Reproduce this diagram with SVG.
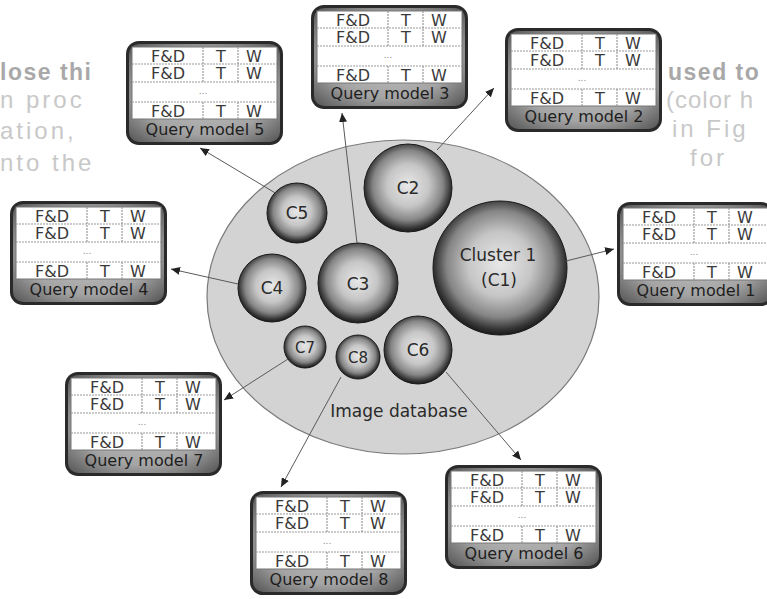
<svg xmlns="http://www.w3.org/2000/svg" width="767" height="599" viewBox="0 0 767 599">
<defs>
<radialGradient id="ball" cx="0.5" cy="0.47" r="0.53">
<stop offset="0" stop-color="#e8e8e8"/>
<stop offset="0.45" stop-color="#c6c6c6"/>
<stop offset="0.75" stop-color="#858585"/>
<stop offset="0.92" stop-color="#353535"/>
<stop offset="1" stop-color="#1a1a1a"/>
</radialGradient>
<radialGradient id="frameGrad" cx="0.5" cy="0.5" r="0.7">
<stop offset="0" stop-color="#c4c4c4"/>
<stop offset="0.6" stop-color="#a4a4a4"/>
<stop offset="1" stop-color="#555555"/>
</radialGradient>
<marker id="arr" markerWidth="9" markerHeight="8" refX="9" refY="4" orient="auto" markerUnits="userSpaceOnUse">
<path d="M0,0 L9,4 L0,8 z" fill="#222"/>
</marker>
</defs>
<style>
.bg{font-family:"Liberation Sans",Arial,sans-serif;font-size:24px;letter-spacing:3px;fill:#c8c8c8}
.bgb{font-family:"Liberation Sans",Arial,sans-serif;font-size:23px;letter-spacing:1.5px;font-weight:bold;fill:#a8a8a8}
.frame{fill:#2a2a2a}
.frameIn{fill:url(#frameGrad)}
.tbl{fill:#ffffff;stroke:#777;stroke-width:1}
.sep{stroke:#9a9a9a;stroke-width:1.2;stroke-dasharray:2 1}
.t{font-family:"DejaVu Sans",Verdana,sans-serif;font-size:16px;fill:#3a3a3a;text-anchor:middle}
.dots{font-family:"DejaVu Sans",Verdana,sans-serif;font-size:9px;fill:#888;text-anchor:middle}
.ft{font-family:"DejaVu Sans",Verdana,sans-serif;font-size:16px;fill:#1e1e1e;text-anchor:middle}
.db{fill:#d3d3d3;stroke:#7a7a7a;stroke-width:1.2}
.ball{fill:url(#ball);stroke:#1a1a1a;stroke-width:1}
.cl{font-family:"DejaVu Sans",Verdana,sans-serif;font-size:17px;fill:#2a2a2a;text-anchor:middle}
.con{stroke:#5a5a5a;stroke-width:1;fill:none;marker-end:url(#arr)}
</style>
<rect width="767" height="599" fill="#ffffff"/>
<g id="background-text">
<text class="bgb" x="0" y="80">lose thi</text>
<text class="bg" x="0" y="108">n proc</text>
<text class="bg" x="0" y="139">ation,</text>
<text class="bg" x="0" y="171">nto  the</text>
<text class="bgb" x="668" y="80">used to</text>
<text class="bg" x="666" y="108" style="letter-spacing:1px">(color h</text>
<text class="bg" x="672" y="137">in Fig</text>
<text class="bg" x="690" y="166">for</text>
</g>
<g id="database">
<ellipse class="db" cx="403" cy="297" rx="196" ry="157"/>
<text class="cl" x="399" y="417">Image database</text>
</g>
<g id="C1"><circle class="ball" cx="500" cy="268" r="67"/><text class="cl" x="498" y="261">Cluster 1</text><text class="cl" x="499" y="286">(C1)</text></g>
<g id="C2"><circle class="ball" cx="408" cy="188" r="44"/><text class="cl" x="408" y="194">C2</text></g>
<g id="C3"><circle class="ball" cx="358" cy="283" r="40"/><text class="cl" x="358" y="290">C3</text></g>
<g id="C4"><circle class="ball" cx="272" cy="288" r="34"/><text class="cl" x="272" y="294">C4</text></g>
<g id="C5"><circle class="ball" cx="297" cy="213" r="30"/><text class="cl" x="297" y="219">C5</text></g>
<g id="C6"><circle class="ball" cx="418" cy="350" r="34"/><text class="cl" x="418" y="356">C6</text></g>
<g id="C7"><circle class="ball" cx="305" cy="347" r="21"/><text class="cl" x="305" y="353" style="font-size:15px">C7</text></g>
<g id="C8"><circle class="ball" cx="358" cy="357" r="22"/><text class="cl" x="358" y="363" style="font-size:15px">C8</text></g>
<g id="connectors">
<line class="con" x1="277" y1="194" x2="200" y2="148"/>
<line class="con" x1="357" y1="243" x2="342" y2="113"/>
<line class="con" x1="437" y1="150" x2="494" y2="88"/>
<line class="con" x1="566" y1="261" x2="614" y2="249"/>
<line class="con" x1="238" y1="284" x2="171" y2="269"/>
<line class="con" x1="288" y1="359" x2="224" y2="400"/>
<line class="con" x1="341" y1="377" x2="281" y2="487"/>
<line class="con" x1="446" y1="372" x2="521" y2="460"/>
</g>
<g id="QM5" transform="translate(126,41)">
<rect class="frame" width="157" height="104" rx="13"/><rect class="frameIn" x="3" y="3" width="151" height="98" rx="10"/><rect class="tbl" x="6" y="6" width="145" height="72"/>
<line class="sep" x1="6" y1="23" x2="151" y2="23"/><line class="sep" x1="6" y1="41" x2="151" y2="41"/><line class="sep" x1="6" y1="61" x2="151" y2="61"/>
<line class="sep" x1="77" y1="6" x2="77" y2="41"/><line class="sep" x1="112" y1="6" x2="112" y2="41"/><line class="sep" x1="77" y1="61" x2="77" y2="78"/><line class="sep" x1="112" y1="61" x2="112" y2="78"/>
<text class="t" x="42" y="20.5">F&amp;D</text><text class="t" x="95" y="20.5">T</text><text class="t" x="128" y="20.5">W</text>
<text class="t" x="42" y="38">F&amp;D</text><text class="t" x="95" y="38">T</text><text class="t" x="128" y="38">W</text>
<text class="dots" x="77" y="53">...</text>
<text class="t" x="42" y="75.5">F&amp;D</text><text class="t" x="95" y="75.5">T</text><text class="t" x="128" y="75.5">W</text>
<text class="ft" x="79" y="93.5">Query model 5</text>
</g>
<g id="QM3" transform="translate(311,5)">
<rect class="frame" width="157" height="104" rx="13"/><rect class="frameIn" x="3" y="3" width="151" height="98" rx="10"/><rect class="tbl" x="6" y="6" width="145" height="72"/>
<line class="sep" x1="6" y1="23" x2="151" y2="23"/><line class="sep" x1="6" y1="41" x2="151" y2="41"/><line class="sep" x1="6" y1="61" x2="151" y2="61"/>
<line class="sep" x1="77" y1="6" x2="77" y2="41"/><line class="sep" x1="112" y1="6" x2="112" y2="41"/><line class="sep" x1="77" y1="61" x2="77" y2="78"/><line class="sep" x1="112" y1="61" x2="112" y2="78"/>
<text class="t" x="42" y="20.5">F&amp;D</text><text class="t" x="95" y="20.5">T</text><text class="t" x="128" y="20.5">W</text>
<text class="t" x="42" y="38">F&amp;D</text><text class="t" x="95" y="38">T</text><text class="t" x="128" y="38">W</text>
<text class="dots" x="77" y="53">...</text>
<text class="t" x="42" y="75.5">F&amp;D</text><text class="t" x="95" y="75.5">T</text><text class="t" x="128" y="75.5">W</text>
<text class="ft" x="79" y="93.5">Query model 3</text>
</g>
<g id="QM2" transform="translate(505,28)">
<rect class="frame" width="157" height="104" rx="13"/><rect class="frameIn" x="3" y="3" width="151" height="98" rx="10"/><rect class="tbl" x="6" y="6" width="145" height="72"/>
<line class="sep" x1="6" y1="23" x2="151" y2="23"/><line class="sep" x1="6" y1="41" x2="151" y2="41"/><line class="sep" x1="6" y1="61" x2="151" y2="61"/>
<line class="sep" x1="77" y1="6" x2="77" y2="41"/><line class="sep" x1="112" y1="6" x2="112" y2="41"/><line class="sep" x1="77" y1="61" x2="77" y2="78"/><line class="sep" x1="112" y1="61" x2="112" y2="78"/>
<text class="t" x="42" y="20.5">F&amp;D</text><text class="t" x="95" y="20.5">T</text><text class="t" x="128" y="20.5">W</text>
<text class="t" x="42" y="38">F&amp;D</text><text class="t" x="95" y="38">T</text><text class="t" x="128" y="38">W</text>
<text class="dots" x="77" y="53">...</text>
<text class="t" x="42" y="75.5">F&amp;D</text><text class="t" x="95" y="75.5">T</text><text class="t" x="128" y="75.5">W</text>
<text class="ft" x="79" y="93.5">Query model 2</text>
</g>
<g id="QM1" transform="translate(617,202)">
<rect class="frame" width="157" height="104" rx="13"/><rect class="frameIn" x="3" y="3" width="151" height="98" rx="10"/><rect class="tbl" x="6" y="6" width="145" height="72"/>
<line class="sep" x1="6" y1="23" x2="151" y2="23"/><line class="sep" x1="6" y1="41" x2="151" y2="41"/><line class="sep" x1="6" y1="61" x2="151" y2="61"/>
<line class="sep" x1="77" y1="6" x2="77" y2="41"/><line class="sep" x1="112" y1="6" x2="112" y2="41"/><line class="sep" x1="77" y1="61" x2="77" y2="78"/><line class="sep" x1="112" y1="61" x2="112" y2="78"/>
<text class="t" x="42" y="20.5">F&amp;D</text><text class="t" x="95" y="20.5">T</text><text class="t" x="128" y="20.5">W</text>
<text class="t" x="42" y="38">F&amp;D</text><text class="t" x="95" y="38">T</text><text class="t" x="128" y="38">W</text>
<text class="dots" x="77" y="53">...</text>
<text class="t" x="42" y="75.5">F&amp;D</text><text class="t" x="95" y="75.5">T</text><text class="t" x="128" y="75.5">W</text>
<text class="ft" x="79" y="93.5">Query model 1</text>
</g>
<g id="QM4" transform="translate(10,201)">
<rect class="frame" width="157" height="104" rx="13"/><rect class="frameIn" x="3" y="3" width="151" height="98" rx="10"/><rect class="tbl" x="6" y="6" width="145" height="72"/>
<line class="sep" x1="6" y1="23" x2="151" y2="23"/><line class="sep" x1="6" y1="41" x2="151" y2="41"/><line class="sep" x1="6" y1="61" x2="151" y2="61"/>
<line class="sep" x1="77" y1="6" x2="77" y2="41"/><line class="sep" x1="112" y1="6" x2="112" y2="41"/><line class="sep" x1="77" y1="61" x2="77" y2="78"/><line class="sep" x1="112" y1="61" x2="112" y2="78"/>
<text class="t" x="42" y="20.5">F&amp;D</text><text class="t" x="95" y="20.5">T</text><text class="t" x="128" y="20.5">W</text>
<text class="t" x="42" y="38">F&amp;D</text><text class="t" x="95" y="38">T</text><text class="t" x="128" y="38">W</text>
<text class="dots" x="77" y="53">...</text>
<text class="t" x="42" y="75.5">F&amp;D</text><text class="t" x="95" y="75.5">T</text><text class="t" x="128" y="75.5">W</text>
<text class="ft" x="79" y="93.5">Query model 4</text>
</g>
<g id="QM7" transform="translate(65,372)">
<rect class="frame" width="157" height="104" rx="13"/><rect class="frameIn" x="3" y="3" width="151" height="98" rx="10"/><rect class="tbl" x="6" y="6" width="145" height="72"/>
<line class="sep" x1="6" y1="23" x2="151" y2="23"/><line class="sep" x1="6" y1="41" x2="151" y2="41"/><line class="sep" x1="6" y1="61" x2="151" y2="61"/>
<line class="sep" x1="77" y1="6" x2="77" y2="41"/><line class="sep" x1="112" y1="6" x2="112" y2="41"/><line class="sep" x1="77" y1="61" x2="77" y2="78"/><line class="sep" x1="112" y1="61" x2="112" y2="78"/>
<text class="t" x="42" y="20.5">F&amp;D</text><text class="t" x="95" y="20.5">T</text><text class="t" x="128" y="20.5">W</text>
<text class="t" x="42" y="38">F&amp;D</text><text class="t" x="95" y="38">T</text><text class="t" x="128" y="38">W</text>
<text class="dots" x="77" y="53">...</text>
<text class="t" x="42" y="75.5">F&amp;D</text><text class="t" x="95" y="75.5">T</text><text class="t" x="128" y="75.5">W</text>
<text class="ft" x="79" y="93.5">Query model 7</text>
</g>
<g id="QM8" transform="translate(250,491)">
<rect class="frame" width="157" height="104" rx="13"/><rect class="frameIn" x="3" y="3" width="151" height="98" rx="10"/><rect class="tbl" x="6" y="6" width="145" height="72"/>
<line class="sep" x1="6" y1="23" x2="151" y2="23"/><line class="sep" x1="6" y1="41" x2="151" y2="41"/><line class="sep" x1="6" y1="61" x2="151" y2="61"/>
<line class="sep" x1="77" y1="6" x2="77" y2="41"/><line class="sep" x1="112" y1="6" x2="112" y2="41"/><line class="sep" x1="77" y1="61" x2="77" y2="78"/><line class="sep" x1="112" y1="61" x2="112" y2="78"/>
<text class="t" x="42" y="20.5">F&amp;D</text><text class="t" x="95" y="20.5">T</text><text class="t" x="128" y="20.5">W</text>
<text class="t" x="42" y="38">F&amp;D</text><text class="t" x="95" y="38">T</text><text class="t" x="128" y="38">W</text>
<text class="dots" x="77" y="53">...</text>
<text class="t" x="42" y="75.5">F&amp;D</text><text class="t" x="95" y="75.5">T</text><text class="t" x="128" y="75.5">W</text>
<text class="ft" x="79" y="93.5">Query model 8</text>
</g>
<g id="QM6" transform="translate(445,465)">
<rect class="frame" width="157" height="104" rx="13"/><rect class="frameIn" x="3" y="3" width="151" height="98" rx="10"/><rect class="tbl" x="6" y="6" width="145" height="72"/>
<line class="sep" x1="6" y1="23" x2="151" y2="23"/><line class="sep" x1="6" y1="41" x2="151" y2="41"/><line class="sep" x1="6" y1="61" x2="151" y2="61"/>
<line class="sep" x1="77" y1="6" x2="77" y2="41"/><line class="sep" x1="112" y1="6" x2="112" y2="41"/><line class="sep" x1="77" y1="61" x2="77" y2="78"/><line class="sep" x1="112" y1="61" x2="112" y2="78"/>
<text class="t" x="42" y="20.5">F&amp;D</text><text class="t" x="95" y="20.5">T</text><text class="t" x="128" y="20.5">W</text>
<text class="t" x="42" y="38">F&amp;D</text><text class="t" x="95" y="38">T</text><text class="t" x="128" y="38">W</text>
<text class="dots" x="77" y="53">...</text>
<text class="t" x="42" y="75.5">F&amp;D</text><text class="t" x="95" y="75.5">T</text><text class="t" x="128" y="75.5">W</text>
<text class="ft" x="79" y="93.5">Query model 6</text>
</g>
</svg>
